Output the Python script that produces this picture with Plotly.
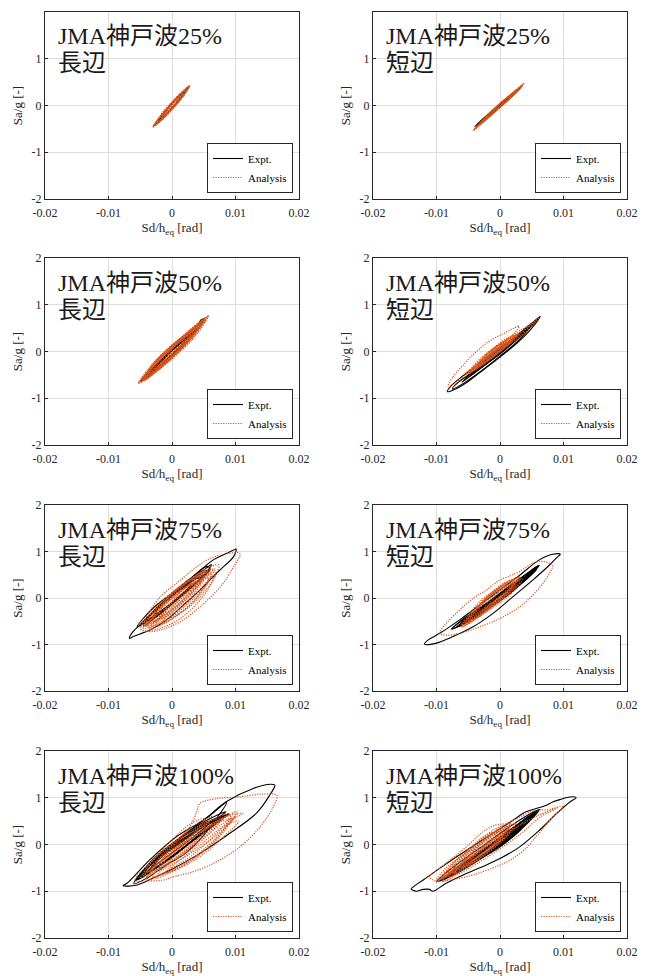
import plotly.graph_objects as go

# ---------------- data (x in mrad, y in g) ----------------
TITLES_EQ = ["JMA"] * 8
TITLES_WAVE = ["神戸波"] * 8
TITLES_LEVEL = ["25%", "25%", "50%", "50%", "75%", "75%", "100%", "100%"]
SIDES = ["長辺", "短辺", "長辺", "短辺", "長辺", "短辺", "長辺", "短辺"]

X_TICKS = [-0.02, -0.01, 0, 0.01, 0.02]
X_TICKTEXT = ["-0.02", "-0.01", "0", "0.01", "0.02"]
Y_TICKS = [-2, -1, 0, 1, 2]
Y_TICKTEXT = ["-2", "-1", "0", "1", "2"]

# 25% long side
K25L_EXPT = [
    [(-2.9, -0.44), (-1.5, -0.27), (0, -0.06), (1.5, 0.17), (2.7, 0.41), (1.5, 0.24), (0, 0.04), (-1.5, -0.19), (-2.9, -0.44)],
    [(-2.2, -0.34), (-1.0, -0.19), (0.5, 0.03), (2.0, 0.29), (1.0, 0.19), (-0.5, -0.04), (-2.2, -0.34)],
]
K25L_ANA = [
    [(-3.0, -0.46), (-1.5, -0.30), (0, -0.09), (1.5, 0.15), (2.8, 0.43), (1.5, 0.27), (0, 0.07), (-1.5, -0.17), (-3.0, -0.46)],
    [(-2.6, -0.40), (-1.2, -0.25), (0.3, -0.03), (1.8, 0.22), (2.4, 0.37), (1.0, 0.21), (-0.4, 0.02), (-1.8, -0.20), (-2.6, -0.40)],
    [(-1.8, -0.30), (0, -0.05), (1.6, 0.24), (0, 0.05), (-1.8, -0.30)],
    [(-2.8, -0.44), (-0.8, -0.16), (1.2, 0.14), (2.6, 0.40), (0.8, 0.17), (-1.0, -0.10), (-2.8, -0.44)],
    [(-2.9, -0.45), (-1.4, -0.28), (0.2, -0.04), (1.7, 0.20), (2.7, 0.41), (1.2, 0.25), (-0.2, 0.03), (-1.6, -0.19), (-2.9, -0.45)],
    [(-2.4, -0.38), (-0.5, -0.12), (1.3, 0.14), (2.2, 0.33), (0.5, 0.12), (-1.3, -0.14), (-2.4, -0.38)],
    [(-1.2, -0.22), (0.5, 0.02), (1.2, 0.18), (-0.3, 0.0), (-1.2, -0.22)],
    [(-3.0, -0.45), (-1, -0.20), (1, 0.08), (2.8, 0.42), (1, 0.15), (-1, -0.12), (-3.0, -0.45)],
    [(-2.7, -0.43), (-0.5, -0.14), (1.5, 0.16), (2.5, 0.38), (0.2, 0.08), (-1.8, -0.24), (-2.7, -0.43)],
    [(-2.0, -0.36), (0, -0.08), (2, 0.24), (0.5, 0.10), (-2.0, -0.36)],
    [(-1.5, -0.20), (0.8, 0.12), (-0.5, -0.02), (-1.5, -0.20)],
]
# 25% short side
K25S_EXPT = [
    [(-4.0, -0.45), (-2, -0.25), (0, -0.03), (2, 0.21), (3.4, 0.40), (2, 0.26), (0, 0.03), (-2, -0.20), (-4.0, -0.45)],
    [(-3.4, -0.40), (-1, -0.14), (1, 0.09), (2.8, 0.33), (1, 0.13), (-1, -0.10), (-3.4, -0.40)],
]
K25S_ANA = [
    [(-4.25, -0.54), (-2, -0.28), (0, -0.04), (2, 0.20), (3.8, 0.48), (2, 0.26), (0, 0.04), (-2, -0.21), (-4.25, -0.54)],
    [(-3.5, -0.45), (-1.5, -0.21), (0.5, 0.03), (2.5, 0.28), (1.0, 0.15), (-1, -0.10), (-3.5, -0.45)],
    [(-2.5, -0.33), (0, -0.02), (2.8, 0.35), (0, 0.03), (-2.5, -0.33)],
    [(-4.0, -0.50), (-1.5, -0.22), (1, 0.08), (3.5, 0.43), (1.5, 0.22), (-1, -0.09), (-4.0, -0.50)],
    [(-3, -0.40), (-0.5, -0.10), (2, 0.22), (3.2, 0.40), (0.8, 0.13), (-1.8, -0.18), (-3, -0.40)],
    [(-4.1, -0.52), (-1, -0.14), (2, 0.20), (3.7, 0.46), (1.2, 0.18), (-1.5, -0.14), (-4.1, -0.52)],
    [(-3.8, -0.48), (-0.5, -0.08), (2.5, 0.30), (0, 0.05), (-3.8, -0.48)],
]
# 50% long side
K50L_EXPT = [
    [(-5.0, -0.64), (-3, -0.45), (-1, -0.20), (1, 0.05), (3, 0.33), (4.5, 0.56), (5.0, 0.66), (4.2, 0.58), (2.5, 0.36), (0.5, 0.10), (-1.5, -0.15), (-3.5, -0.42), (-5.0, -0.64)],
    [(4.2, 0.58), (4.6, 0.68), (5.0, 0.70), (4.6, 0.62), (4.2, 0.58)],
    [(-4.5, -0.62), (-2, -0.33), (0, -0.08), (2, 0.18), (4.0, 0.50), (2, 0.25), (0, 0.02), (-2, -0.25), (-4.5, -0.62)],
    [(-4.0, -0.56), (-1.5, -0.25), (1, 0.07), (3.5, 0.42), (1.5, 0.20), (-1, -0.12), (-4.0, -0.56)],
]
K50L_ANA = [
    [(-5.3, -0.68), (-3.5, -0.50), (-1.5, -0.27), (0.5, -0.02), (2.5, 0.25), (4.5, 0.53), (5.8, 0.77), (4.5, 0.64), (2.5, 0.40), (0.5, 0.16), (-1.5, -0.10), (-3.5, -0.37), (-5.3, -0.68)],
    [(-4.8, -0.64), (-2.5, -0.40), (0, -0.10), (2.5, 0.22), (5.2, 0.70), (3, 0.42), (0.5, 0.13), (-2, -0.20), (-4.8, -0.64)],
    [(-4.2, -0.60), (-2, -0.34), (0, -0.12), (2, 0.14), (4.8, 0.60), (2.5, 0.38), (0, 0.08), (-2.5, -0.22), (-4.2, -0.60)],
    [(-3.5, -0.48), (-1, -0.20), (1.5, 0.10), (4.0, 0.50), (1.5, 0.26), (-1, -0.03), (-3.5, -0.48)],
    [(-2.5, -0.38), (0, -0.05), (3, 0.35), (0.5, 0.15), (-2.5, -0.38)],
    [(-5.0, -0.66), (-3, -0.48), (-1, -0.25), (1, 0.0), (3, 0.28), (5.5, 0.72), (3.5, 0.50), (1, 0.20), (-1, -0.05), (-3, -0.30), (-5.0, -0.66)],
    [(-4.5, -0.60), (-2, -0.38), (0.5, -0.08), (3, 0.25), (5, 0.65), (2.5, 0.42), (0, 0.12), (-2.5, -0.18), (-4.5, -0.60)],
    [(-3.8, -0.55), (-1.5, -0.30), (1, 0.0), (3.5, 0.35), (4.5, 0.58), (2, 0.35), (-0.5, 0.06), (-3, -0.28), (-3.8, -0.55)],
    [(-3, -0.45), (-0.5, -0.15), (2, 0.18), (4.2, 0.52), (1, 0.25), (-1.5, -0.05), (-3, -0.45)],
    [(-2, -0.35), (0.5, -0.05), (2.5, 0.25), (0.5, 0.12), (-2, -0.35)],
    [(-4.6, -0.62), (-1.5, -0.28), (1.5, 0.12), (5.0, 0.66), (2, 0.30), (-1, 0.0), (-4.6, -0.62)],
    [(-5.2, -0.67), (-3, -0.42), (-0.5, -0.10), (2, 0.20), (4.5, 0.55), (5.6, 0.74), (4, 0.60), (1.5, 0.30), (-1, 0.0), (-3.5, -0.33), (-5.2, -0.67)],
    [(-4.9, -0.65), (-2.5, -0.35), (0, -0.02), (2.5, 0.30), (5.3, 0.70), (3, 0.47), (0.5, 0.18), (-2, -0.12), (-4.9, -0.65)],
    [(-4.4, -0.62), (-1.8, -0.36), (0.8, -0.06), (3.5, 0.30), (5.4, 0.68), (3.2, 0.45), (0.2, 0.10), (-2.8, -0.25), (-4.4, -0.62)],
    [(-3.3, -0.50), (-1, -0.24), (1.2, 0.04), (3.8, 0.42), (2, 0.34), (-0.3, 0.08), (-3.3, -0.50)],
    [(-1.5, -0.30), (1, 0.0), (3, 0.30), (1, 0.18), (-1.5, -0.30)],
]
# 50% short side
K50S_EXPT = [
    [(-8.3, -0.86), (-7.0, -0.80), (-5, -0.64), (-2.5, -0.38), (0, -0.12), (2.5, 0.16), (4.5, 0.42), (6.35, 0.75), (5.5, 0.66), (3.5, 0.44), (1, 0.17), (-1.5, -0.08), (-4, -0.34), (-6.2, -0.56), (-7.6, -0.72), (-8.3, -0.86)],
    [(-7.5, -0.80), (-5.5, -0.66), (-3, -0.42), (0, -0.10), (3, 0.25), (6.0, 0.72), (4, 0.45), (1, 0.12), (-2, -0.20), (-4.5, -0.46), (-6.5, -0.65), (-7.5, -0.80)],
    [(-6, -0.66), (-3, -0.35), (0, -0.05), (3, 0.30), (6.2, 0.73), (3, 0.36), (0, 0.02), (-3, -0.28), (-6, -0.66)],
    [(-5, -0.55), (-2, -0.25), (1, 0.07), (5, 0.60), (2, 0.25), (-1, -0.08), (-5, -0.55)],
    [(-4.5, -0.47), (-2, -0.22), (2, 0.20), (5.5, 0.65), (2.5, 0.30), (-1.5, -0.12), (-4.5, -0.47)],
]
K50S_ANA = [
    [(-8.2, -0.75), (-7.4, -0.54), (-5.8, -0.29), (-3.7, 0.0), (-1.6, 0.23), (0.5, 0.38), (2.2, 0.50), (3.0, 0.54), (2.6, 0.45), (1.0, 0.22), (-1.1, -0.02), (-3.7, -0.31), (-5.8, -0.54), (-7.4, -0.71), (-8.2, -0.75)],
    [(-5.3, -0.45), (-3, -0.24), (-1, -0.03), (1, 0.17), (2.5, 0.33), (1.5, 0.27), (-0.5, 0.06), (-2.5, -0.16), (-5.3, -0.45)],
    [(-4.5, -0.42), (-2, -0.20), (0, 0.0), (2, 0.25), (0, 0.10), (-2, -0.10), (-4.5, -0.42)],
    [(-5, -0.47), (-2.5, -0.25), (0.5, 0.06), (3, 0.35), (5, 0.58), (6.2, 0.72), (4.5, 0.55), (2, 0.28), (-0.5, 0.02), (-3, -0.22), (-5, -0.47)],
    [(-3.5, -0.33), (-1, -0.08), (1.5, 0.20), (0, 0.12), (-2, -0.10), (-3.5, -0.33)],
    [(-5, -0.48), (-3, -0.30), (-0.5, -0.05), (1.5, 0.18), (3, 0.38), (1, 0.28), (-1.5, 0.02), (-3.5, -0.20), (-5, -0.48)],
    [(-4, -0.40), (-1.5, -0.15), (0.5, 0.08), (2.2, 0.30), (0.5, 0.20), (-2, -0.05), (-4, -0.40)],
    [(-3, -0.30), (-0.5, -0.05), (1.8, 0.22), (-0.5, 0.10), (-3, -0.30)],
    [(-5.5, -0.50), (-2.5, -0.25), (0, 0.0), (2, 0.20), (4, 0.42), (5.5, 0.62), (3.5, 0.48), (1, 0.25), (-1.5, 0.0), (-5.5, -0.50)],
    [(-4.8, -0.46), (-2, -0.18), (0.5, 0.10), (2.8, 0.36), (1, 0.25), (-1.5, 0.0), (-4.8, -0.46)],
    [(-3.8, -0.36), (-1.2, -0.10), (1, 0.14), (2.6, 0.34), (0, 0.16), (-2.5, -0.10), (-3.8, -0.36)],
    [(-2.2, -0.22), (0.2, 0.05), (2, 0.28), (0.5, 0.18), (-2.2, -0.22)],
]
# 75% long side
K75L_EXPT = [
    [(-6.7, -0.87), (-6.1, -0.83), (-3.5, -0.69), (-0.84, -0.47), (1.8, -0.15), (4.4, 0.17), (7.3, 0.57), (9.7, 0.89), (10.1, 1.05), (9.7, 1.03), (8.6, 0.96), (6.5, 0.82), (3.4, 0.46), (0.7, 0.14), (-1.9, -0.19), (-4.5, -0.51), (-6.35, -0.76), (-6.7, -0.87)],
    [(-5.5, -0.62), (-3, -0.42), (0, -0.10), (3, 0.25), (6.0, 0.62), (5.5, 0.68), (3, 0.43), (0, 0.10), (-3, -0.22), (-5.5, -0.62)],
    [(3.5, 0.45), (5.2, 0.62), (6.2, 0.72), (5.5, 0.56), (4.2, 0.42), (3.5, 0.45)],
    [(-4.5, -0.60), (-2, -0.35), (1, -0.02), (4, 0.35), (5.8, 0.60), (3.5, 0.43), (0.5, 0.10), (-2.5, -0.22), (-4.5, -0.60)],
    [(-5, -0.58), (-2, -0.30), (0.5, -0.05), (3, 0.22), (5, 0.50), (2.5, 0.30), (-0.5, 0.0), (-3, -0.30), (-5, -0.58)],
    [(-3, -0.45), (0, -0.12), (3, 0.30), (1, 0.15), (-1.5, -0.10), (-3, -0.45)],
]
K75L_ANA = [
    [(-5.0, -0.65), (-4.0, -0.72), (-1.9, -0.69), (1.3, -0.51), (4.4, -0.19), (7.6, 0.24), (9.7, 0.67), (10.7, 0.96), (8.6, 0.95), (6.0, 0.85), (3.9, 0.67), (1, 0.35), (-2, 0.0), (-4, -0.40), (-5.0, -0.65)],
    [(-4.5, -0.70), (-2, -0.60), (0.5, -0.40), (3.4, -0.11), (6.5, 0.39), (7.3, 0.71), (5, 0.60), (2, 0.30), (-1, -0.05), (-3.5, -0.40), (-4.5, -0.70)],
    [(-4, -0.60), (-1, -0.40), (2, -0.05), (5, 0.40), (6.5, 0.62), (4, 0.50), (1, 0.20), (-2, -0.15), (-4, -0.60)],
    [(-3.5, -0.55), (-1, -0.30), (2, 0.05), (5.5, 0.55), (3, 0.40), (0, 0.10), (-3.5, -0.55)],
    [(-3, -0.50), (0, -0.25), (3, 0.15), (6, 0.60), (3.5, 0.45), (0.5, 0.10), (-2, -0.20), (-3, -0.50)],
    [(-2, -0.40), (1, -0.15), (4, 0.25), (5, 0.50), (2, 0.30), (-1, -0.05), (-2, -0.40)],
    [(-4.8, -0.62), (-2.5, -0.50), (0, -0.30), (2.5, 0.0), (4.5, 0.35), (2, 0.20), (-1, -0.10), (-3, -0.35), (-4.8, -0.62)],
    [(-4.2, -0.65), (-1.5, -0.50), (1.5, -0.20), (4.5, 0.20), (6.8, 0.62), (4.2, 0.45), (1.5, 0.15), (-1.5, -0.20), (-4.2, -0.65)],
    [(-3.8, -0.62), (-0.5, -0.45), (2.5, -0.12), (5.5, 0.30), (6.2, 0.50), (3, 0.30), (0, 0.0), (-2.5, -0.30), (-3.8, -0.62)],
    [(-2.5, -0.60), (0.5, -0.40), (3.5, -0.05), (5.8, 0.42), (3.5, 0.35), (0.5, 0.0), (-2.5, -0.60)],
    [(-3, -0.50), (-0.5, -0.30), (2, 0.0), (4.5, 0.35), (2.5, 0.28), (-0.5, -0.05), (-3, -0.50)],
    [(-1.5, -0.55), (1.5, -0.30), (4.5, 0.10), (6, 0.45), (4, 0.30), (1, -0.05), (-1.5, -0.55)],
    [(-4.5, -0.58), (-2, -0.32), (0.5, -0.05), (3, 0.25), (5.5, 0.58), (2.5, 0.38), (0, 0.12), (-2.5, -0.20), (-4.5, -0.58)],
    [(-2, -0.45), (1, -0.25), (3.5, 0.10), (5, 0.40), (2, 0.15), (-0.5, -0.15), (-2, -0.45)],
    [(-3.5, -0.68), (0, -0.55), (3, -0.25), (5.5, 0.15), (6.8, 0.55), (5.5, 0.50), (3, 0.20), (0, -0.15), (-3.5, -0.68)],
]
# 75% short side
K75S_EXPT = [
    [(-11.9, -0.99), (-10.0, -0.97), (-7.4, -0.83), (-4.25, -0.62), (-1.1, -0.33), (2.05, 0.03), (5.2, 0.39), (7.8, 0.71), (9.1, 0.89), (9.5, 0.94), (8.3, 0.94), (6.2, 0.82), (3.1, 0.49), (-0.05, 0.17), (-3.2, -0.15), (-6.35, -0.47), (-9.5, -0.76), (-11.3, -0.90), (-11.9, -0.99)],
    [(-7.7, -0.67), (-5, -0.50), (-2, -0.25), (1, 0.05), (4, 0.40), (6.2, 0.70), (4.5, 0.55), (1.5, 0.25), (-1.5, -0.05), (-4.5, -0.35), (-7.7, -0.67)],
    [(-7, -0.64), (-4, -0.42), (-1, -0.15), (2, 0.15), (5.5, 0.60), (3, 0.40), (0, 0.08), (-3, -0.22), (-7, -0.64)],
    [(-6, -0.55), (-3, -0.30), (0, -0.05), (3, 0.28), (6, 0.68), (2.5, 0.30), (-0.5, 0.0), (-3.5, -0.28), (-6, -0.55)],
    [(-5, -0.48), (-2, -0.20), (1, 0.10), (4.5, 0.50), (1.5, 0.22), (-1.5, -0.08), (-5, -0.48)],
    [(-4, -0.40), (0, -0.02), (3.5, 0.38), (0.5, 0.10), (-4, -0.40)],
    [(-7.5, -0.66), (-4.5, -0.46), (-1.5, -0.18), (1.5, 0.12), (4.5, 0.46), (6, 0.70), (3.5, 0.45), (0.5, 0.15), (-2.5, -0.15), (-5.5, -0.42), (-7.5, -0.66)],
    [(-6.5, -0.60), (-3, -0.32), (0.5, 0.0), (4, 0.38), (5.8, 0.62), (2, 0.25), (-1, -0.05), (-4, -0.30), (-6.5, -0.60)],
]
K75S_ANA = [
    [(-9.5, -0.76), (-8.5, -0.80), (-6.35, -0.76), (-3.2, -0.62), (0, -0.44), (3.1, -0.19), (5.7, 0.14), (7.8, 0.53), (8.3, 0.71), (7.8, 0.75), (5.7, 0.78), (3.1, 0.57), (1.5, 0.47), (0, 0.39), (-2.15, 0.17), (-4.25, -0.01), (-6.35, -0.26), (-8.5, -0.55), (-9.5, -0.76)],
    [(-6, -0.62), (-3.5, -0.40), (-1, -0.15), (1.5, 0.12), (3.1, 0.35), (1.5, 0.38), (-1, 0.15), (-3.5, -0.12), (-6, -0.62)],
    [(-5.5, -0.55), (-3, -0.35), (0, -0.05), (2.5, 0.30), (1, 0.30), (-2, 0.02), (-5.5, -0.55)],
    [(-5, -0.50), (-2, -0.20), (1, 0.10), (3, 0.45), (0.5, 0.25), (-2.5, -0.05), (-5, -0.50)],
    [(-4, -0.45), (-1.5, -0.22), (1, 0.05), (2.5, 0.25), (0, 0.18), (-2.5, -0.10), (-4, -0.45)],
    [(-5.8, -0.62), (-3, -0.30), (0, 0.05), (3, 0.45), (0, 0.25), (-3, -0.10), (-5.8, -0.62)],
    [(-6.2, -0.62), (-3.5, -0.35), (-1, -0.08), (1.5, 0.20), (3.2, 0.45), (1, 0.32), (-1.5, 0.05), (-4, -0.25), (-6.2, -0.62)],
    [(-5, -0.55), (-2.5, -0.30), (0, -0.02), (2, 0.28), (0, 0.20), (-2.5, -0.05), (-5, -0.55)],
    [(-4.5, -0.48), (-2, -0.22), (0.5, 0.05), (2.8, 0.40), (0.5, 0.28), (-2, 0.02), (-4.5, -0.48)],
    [(-3.5, -0.42), (-1, -0.12), (1.5, 0.15), (2, 0.30), (-0.5, 0.12), (-3.5, -0.42)],
    [(-5.5, -0.58), (-3, -0.38), (-0.5, -0.15), (2, 0.12), (3.5, 0.40), (1.5, 0.30), (-1, 0.05), (-3.5, -0.20), (-5.5, -0.58)],
    [(-2.5, -0.30), (0, 0.0), (2.5, 0.35), (0, 0.15), (-2.5, -0.30)],
]
# 100% long side
K100L_EXPT = [
    [(-7.7, -0.88), (-5.6, -0.87), (-3, -0.72), (-0.3, -0.55), (4.4, -0.19), (9.1, 0.24), (13.3, 0.67), (15.4, 1.06), (16.2, 1.27), (15.5, 1.29), (12.8, 1.20), (8.6, 0.92), (4.9, 0.52), (0.74, 0.17), (-3.5, -0.33), (-7.1, -0.83), (-7.7, -0.88)],
    [(-6, -0.84), (-4, -0.72), (-1, -0.45), (2, -0.20), (5, 0.20), (8.6, 0.90), (6, 0.62), (3, 0.32), (0, 0.02), (-3, -0.32), (-6, -0.84)],
    [(-5.6, -0.76), (-3, -0.55), (0, -0.28), (3, 0.05), (6, 0.38), (9.0, 0.66), (6, 0.48), (3, 0.22), (0, -0.05), (-3, -0.35), (-5.6, -0.76)],
    [(-5, -0.70), (-2, -0.45), (1, -0.15), (4, 0.15), (8.5, 0.62), (5, 0.42), (2, 0.15), (-1, -0.12), (-5, -0.70)],
    [(-4.5, -0.65), (-1.5, -0.40), (2, -0.05), (5, 0.30), (8, 0.60), (4, 0.38), (0.5, 0.05), (-2.5, -0.30), (-4.5, -0.65)],
    [(-3.5, -0.55), (0, -0.25), (3.5, 0.12), (7, 0.52), (3, 0.28), (-0.5, -0.05), (-3.5, -0.55)],
    [(-5.2, -0.74), (-2.5, -0.50), (0.5, -0.20), (3.5, 0.12), (6.5, 0.42), (8.8, 0.64), (5.5, 0.42), (2.5, 0.15), (-0.5, -0.12), (-3.5, -0.45), (-5.2, -0.74)],
    [(-4, -0.62), (-1, -0.35), (2, -0.05), (5, 0.28), (7.5, 0.55), (4.5, 0.35), (1.5, 0.05), (-1.5, -0.25), (-4, -0.62)],
    [(-5.8, -0.78), (-3, -0.48), (0, -0.18), (3, 0.12), (6, 0.45), (8.5, 0.70), (5, 0.48), (1.5, 0.15), (-1.5, -0.20), (-4, -0.50), (-5.8, -0.78)],
]
K100L_ANA = [
    [(-1.4, -0.76), (0.2, -0.69), (3.4, -0.58), (7.0, -0.37), (10.7, -0.05), (13.9, 0.38), (15.96, 0.81), (16.5, 1.05), (14.4, 1.08), (10.7, 1.02), (7.0, 0.98), (4.4, 0.88), (3.9, 0.70), (2.8, 0.38), (0.2, 0.03), (-3.5, -0.40), (-5.8, -0.76), (-3.5, -0.78), (-1.4, -0.76)],
    [(-4, -0.72), (-1, -0.60), (2, -0.40), (5, -0.15), (8, 0.25), (10.2, 0.70), (8, 0.55), (5, 0.30), (2, 0.05), (-1, -0.25), (-4, -0.72)],
    [(-3, -0.70), (0, -0.50), (3, -0.25), (6, 0.10), (9, 0.50), (11.2, 0.66), (9, 0.62), (6, 0.40), (3, 0.15), (0, -0.15), (-3, -0.70)],
    [(-4.5, -0.70), (-2, -0.50), (1, -0.25), (4, 0.10), (7, 0.45), (8.8, 0.66), (6, 0.50), (3, 0.20), (0, -0.10), (-2.5, -0.35), (-4.5, -0.70)],
    [(-3.5, -0.60), (0, -0.35), (3, -0.05), (6, 0.30), (8, 0.55), (5, 0.45), (2, 0.20), (-1, -0.15), (-3.5, -0.60)],
    [(-2, -0.55), (1, -0.35), (4, -0.10), (7, 0.20), (9.5, 0.55), (7, 0.45), (4, 0.20), (1, -0.05), (-2, -0.55)],
    [(-5, -0.72), (-2.5, -0.45), (0, -0.20), (3, 0.15), (5, 0.55), (3, 0.45), (0, 0.10), (-2.5, -0.25), (-5, -0.72)],
    [(-4, -0.75), (-1, -0.62), (2, -0.42), (5, -0.10), (8, 0.30), (9.2, 0.62), (7, 0.50), (4, 0.20), (1, -0.10), (-2, -0.40), (-4, -0.75)],
    [(-2.5, -0.72), (0.5, -0.55), (3.5, -0.30), (6.5, 0.05), (9, 0.45), (10, 0.60), (8, 0.45), (5, 0.15), (2, -0.15), (-1, -0.45), (-2.5, -0.72)],
    [(-3.5, -0.65), (-0.5, -0.42), (2.5, -0.15), (5.5, 0.18), (7.5, 0.50), (4.5, 0.32), (1.5, 0.02), (-1.5, -0.30), (-3.5, -0.65)],
    [(-1, -0.60), (2, -0.45), (5, -0.20), (8, 0.15), (10.5, 0.50), (8, 0.38), (5, 0.05), (2, -0.25), (-1, -0.60)],
    [(-4.5, -0.62), (-2, -0.38), (1, -0.10), (4, 0.25), (6.5, 0.60), (4, 0.45), (1, 0.12), (-2, -0.20), (-4.5, -0.62)],
    [(-2, -0.45), (1, -0.20), (4, 0.12), (6, 0.45), (3, 0.25), (0, -0.05), (-2, -0.45)],
]
# 100% short side
K100S_EXPT = [
    [(-14.0, -0.95), (-13.2, -1.00), (-12.1, -0.96), (-11.1, -0.96), (-10.6, -1.00), (-8.5, -0.83), (-5.8, -0.65), (-2.7, -0.47), (0, -0.30), (3.1, -0.05), (6.25, 0.31), (8.9, 0.66), (11, 0.91), (12, 1.00), (11.5, 1.02), (10.4, 1.00), (9.4, 0.96), (8.3, 0.91), (7.3, 0.84), (5.7, 0.77), (4.1, 0.70), (2.05, 0.52), (0, 0.34), (-3.2, 0.06), (-6.35, -0.22), (-9.5, -0.51), (-12.1, -0.76), (-13.6, -0.90), (-14.0, -0.95)],
    [(-10, -0.80), (-7, -0.60), (-4, -0.38), (-1, -0.12), (2, 0.18), (4.5, 0.48), (6.2, 0.75), (4, 0.60), (1, 0.33), (-2, 0.04), (-5, -0.25), (-8, -0.55), (-10, -0.80)],
    [(-9.5, -0.78), (-6, -0.55), (-3, -0.30), (0, -0.02), (3, 0.30), (5.5, 0.66), (3, 0.45), (0, 0.15), (-3, -0.15), (-6, -0.42), (-9.5, -0.78)],
    [(-8.5, -0.72), (-5, -0.45), (-2, -0.18), (1, 0.12), (4, 0.45), (6, 0.70), (2.5, 0.38), (-0.5, 0.08), (-3.5, -0.20), (-8.5, -0.72)],
    [(-7.5, -0.66), (-4, -0.38), (-1, -0.10), (2, 0.20), (5, 0.58), (2, 0.30), (-1, 0.0), (-4, -0.28), (-7.5, -0.66)],
    [(-6, -0.55), (-3, -0.30), (0, -0.05), (3.5, 0.35), (0.5, 0.15), (-2.5, -0.12), (-6, -0.55)],
    [(-9, -0.76), (-6, -0.52), (-3, -0.25), (0, 0.05), (3, 0.38), (6.2, 0.75), (3.5, 0.50), (0.5, 0.20), (-2.5, -0.10), (-5.5, -0.40), (-9, -0.76)],
    [(-7, -0.62), (-4, -0.35), (-1, -0.06), (2.5, 0.30), (5.5, 0.70), (2, 0.35), (-1.5, 0.0), (-4.5, -0.30), (-7, -0.62)],
]
K100S_ANA = [
    [(-11.1, -0.69), (-8.5, -0.40), (-5.3, -0.05), (-2.7, 0.27), (-0.6, 0.42), (1.0, 0.45), (3, 0.58), (5.7, 0.74), (7.3, 0.74), (9.9, 0.81), (8.3, 0.59), (5.7, 0.17), (4.1, -0.08), (2.05, -0.30), (0, -0.44), (-2.7, -0.58), (-5.3, -0.69), (-7.9, -0.76), (-9.8, -0.79), (-10.8, -0.74), (-11.1, -0.69)],
    [(-10, -0.78), (-7, -0.55), (-4, -0.30), (-1, 0.0), (1.5, 0.38), (-0.5, 0.30), (-3, 0.05), (-6, -0.25), (-8.5, -0.50), (-10, -0.78)],
    [(-9, -0.72), (-6, -0.50), (-3, -0.22), (0, 0.10), (1.5, 0.42), (-1, 0.25), (-4, -0.05), (-7, -0.35), (-9, -0.72)],
    [(-8, -0.70), (-5, -0.45), (-2, -0.15), (1, 0.20), (2.5, 0.45), (0, 0.30), (-3, 0.0), (-6, -0.30), (-8, -0.70)],
    [(-7, -0.62), (-4, -0.38), (-1, -0.08), (1.5, 0.25), (-0.5, 0.20), (-3, -0.05), (-5.5, -0.30), (-7, -0.62)],
    [(-9.5, -0.75), (-6.5, -0.45), (-3.5, -0.15), (0, 0.25), (-2, 0.20), (-5, -0.15), (-9.5, -0.75)],
    [(-6, -0.50), (-3, -0.28), (0, 0.05), (2, 0.35), (0, 0.20), (-3, -0.10), (-6, -0.50)],
    [(-9, -0.78), (-5, -0.52), (-1, -0.18), (3, 0.20), (6.5, 0.60), (9.0, 0.78), (6, 0.62), (2, 0.32), (-2, 0.0), (-6, -0.38), (-9, -0.78)],
    [(-9.8, -0.78), (-7, -0.50), (-4, -0.22), (-1, 0.08), (1.8, 0.45), (-0.5, 0.35), (-3.5, 0.05), (-6.5, -0.28), (-9.8, -0.78)],
    [(-8.5, -0.68), (-5.5, -0.40), (-2.5, -0.10), (0.5, 0.25), (-1.5, 0.25), (-4.5, -0.05), (-8.5, -0.68)],
    [(-7.5, -0.65), (-4.5, -0.38), (-1.5, -0.05), (1, 0.32), (-1, 0.22), (-4, -0.12), (-7.5, -0.65)],
    [(-6.5, -0.55), (-3.5, -0.25), (-0.5, 0.08), (1.5, 0.38), (-0.5, 0.25), (-3.5, -0.05), (-6.5, -0.55)],
    [(-5, -0.45), (-2, -0.15), (0.5, 0.20), (-2, 0.05), (-5, -0.45)],
    [(-8, -0.62), (-5, -0.30), (-2, 0.02), (0.5, 0.40), (-2, 0.15), (-5, -0.20), (-8, -0.62)],
]

EXPT = [K25L_EXPT, K25S_EXPT, K50L_EXPT, K50S_EXPT, K75L_EXPT, K75S_EXPT, K100L_EXPT, K100S_EXPT]
ANA = [K25L_ANA, K25S_ANA, K50L_ANA, K50S_ANA, K75L_ANA, K75S_ANA, K100L_ANA, K100S_ANA]


def flatten(loops):
    xs, ys = [], []
    for loop in loops:
        for (x, y) in loop:
            xs.append(x * 1e-3)  # mrad -> rad
            ys.append(y)
        xs.append(None)
        ys.append(None)
    return xs, ys


# ---------------- layout geometry ----------------
# the page body has an 8px default margin, so the figure is drawn 8px in from the window edge
PAGE = 8
W, H = 650 - PAGE, 976 - PAGE
COL_PX = [(45 - PAGE, 299 - PAGE), (373 - PAGE, 627 - PAGE)]
ROW_PX = [(12 - PAGE, 199 - PAGE), (258 - PAGE, 445 - PAGE), (505 - PAGE, 691 - PAGE), (751 - PAGE, 938 - PAGE)]

SERIF = "Liberation Serif, Times New Roman, Noto Sans CJK JP, serif"
AX_COLOR = "#262626"
ORANGE = "#D95319"
SPAN = "<span style='font-family:Liberation Serif'>{}</span>"
CJK = "<span style='font-family:Noto Sans CJK JP'>{}</span>"

fig = go.Figure()
layout = dict(width=W, height=H, margin=dict(l=0, r=0, t=0, b=0),
              paper_bgcolor="white", plot_bgcolor="white",
              font=dict(family=SERIF, size=12, color=AX_COLOR),
              annotations=[])

for i in range(8):
    r, c = divmod(i, 2)
    n = "" if i == 0 else str(i + 1)
    x0, x1 = COL_PX[c]
    y0, y1 = ROW_PX[r]
    xd = [x0 / W, x1 / W]
    yd = [1 - y1 / H, 1 - y0 / H]
    ph = y1 - y0
    leg = "legend" + n

    ex, ey = flatten(EXPT[i])
    ax_, ay_ = flatten(ANA[i])
    fig.add_trace(go.Scatter(x=ex, y=ey, mode="lines", name="Expt.",
                             line=dict(color="black", width=1.1, shape="spline", smoothing=1.0),
                             xaxis="x" + n, yaxis="y" + n, legend=leg))
    fig.add_trace(go.Scatter(x=ax_, y=ay_, mode="lines", name="Analysis",
                             line=dict(color=ORANGE, width=1.2, dash="1.2px,1.3px",
                                       shape="spline", smoothing=1.0),
                             xaxis="x" + n, yaxis="y" + n, legend=leg))

    common = dict(showgrid=True, gridcolor="#dedede", gridwidth=1,
                  zeroline=False, showline=True, mirror=True, automargin=False,
                  linecolor=AX_COLOR, linewidth=1,
                  ticks="inside", ticklen=3, tickcolor=AX_COLOR,
                  tickfont=dict(family=SERIF, size=12, color=AX_COLOR))
    layout["xaxis" + n] = dict(domain=xd, anchor="y" + n, range=[-0.02, 0.02],
                               tickvals=X_TICKS, ticktext=X_TICKTEXT, ticklabelstandoff=3,
                               title=dict(text="Sd/h<sub>eq</sub> [rad]", standoff=2,
                                          font=dict(family=SERIF, size=13, color=AX_COLOR)),
                               **common)
    layout["yaxis" + n] = dict(domain=yd, anchor="x" + n, range=[-2, 2],
                               tickvals=Y_TICKS, ticktext=Y_TICKTEXT,
                               title=dict(text="Sa/g [-]", standoff=6,
                                          font=dict(family=SERIF, size=13, color=AX_COLOR)),
                               **common)
    layout[leg] = dict(x=(x1 - 6) / W, y=1 - (y1 - 6) / H, xanchor="right", yanchor="bottom",
                       bgcolor="white", bordercolor=AX_COLOR, borderwidth=1,
                       font=dict(family=SERIF, size=11, color="black"),
                       itemwidth=30, tracegroupgap=0)
    title = SPAN.format(TITLES_EQ[i]) + CJK.format(TITLES_WAVE[i]) + SPAN.format(TITLES_LEVEL[i])
    layout["annotations"].append(dict(text=title, xref="x" + n + " domain", yref="y" + n + " domain",
                                      x=0.045, y=1 - 22 / ph, xanchor="left", yanchor="middle",
                                      showarrow=False,
                                      font=dict(family=SERIF, size=24, color="#1a1a1a")))
    layout["annotations"].append(dict(text=CJK.format(SIDES[i]), xref="x" + n + " domain",
                                      yref="y" + n + " domain",
                                      x=0.045, y=1 - 49 / ph, xanchor="left", yanchor="middle",
                                      showarrow=False,
                                      font=dict(family=SERIF, size=24, color="#1a1a1a")))

fig.update_layout(**layout)
fig.write_html("out.html")
